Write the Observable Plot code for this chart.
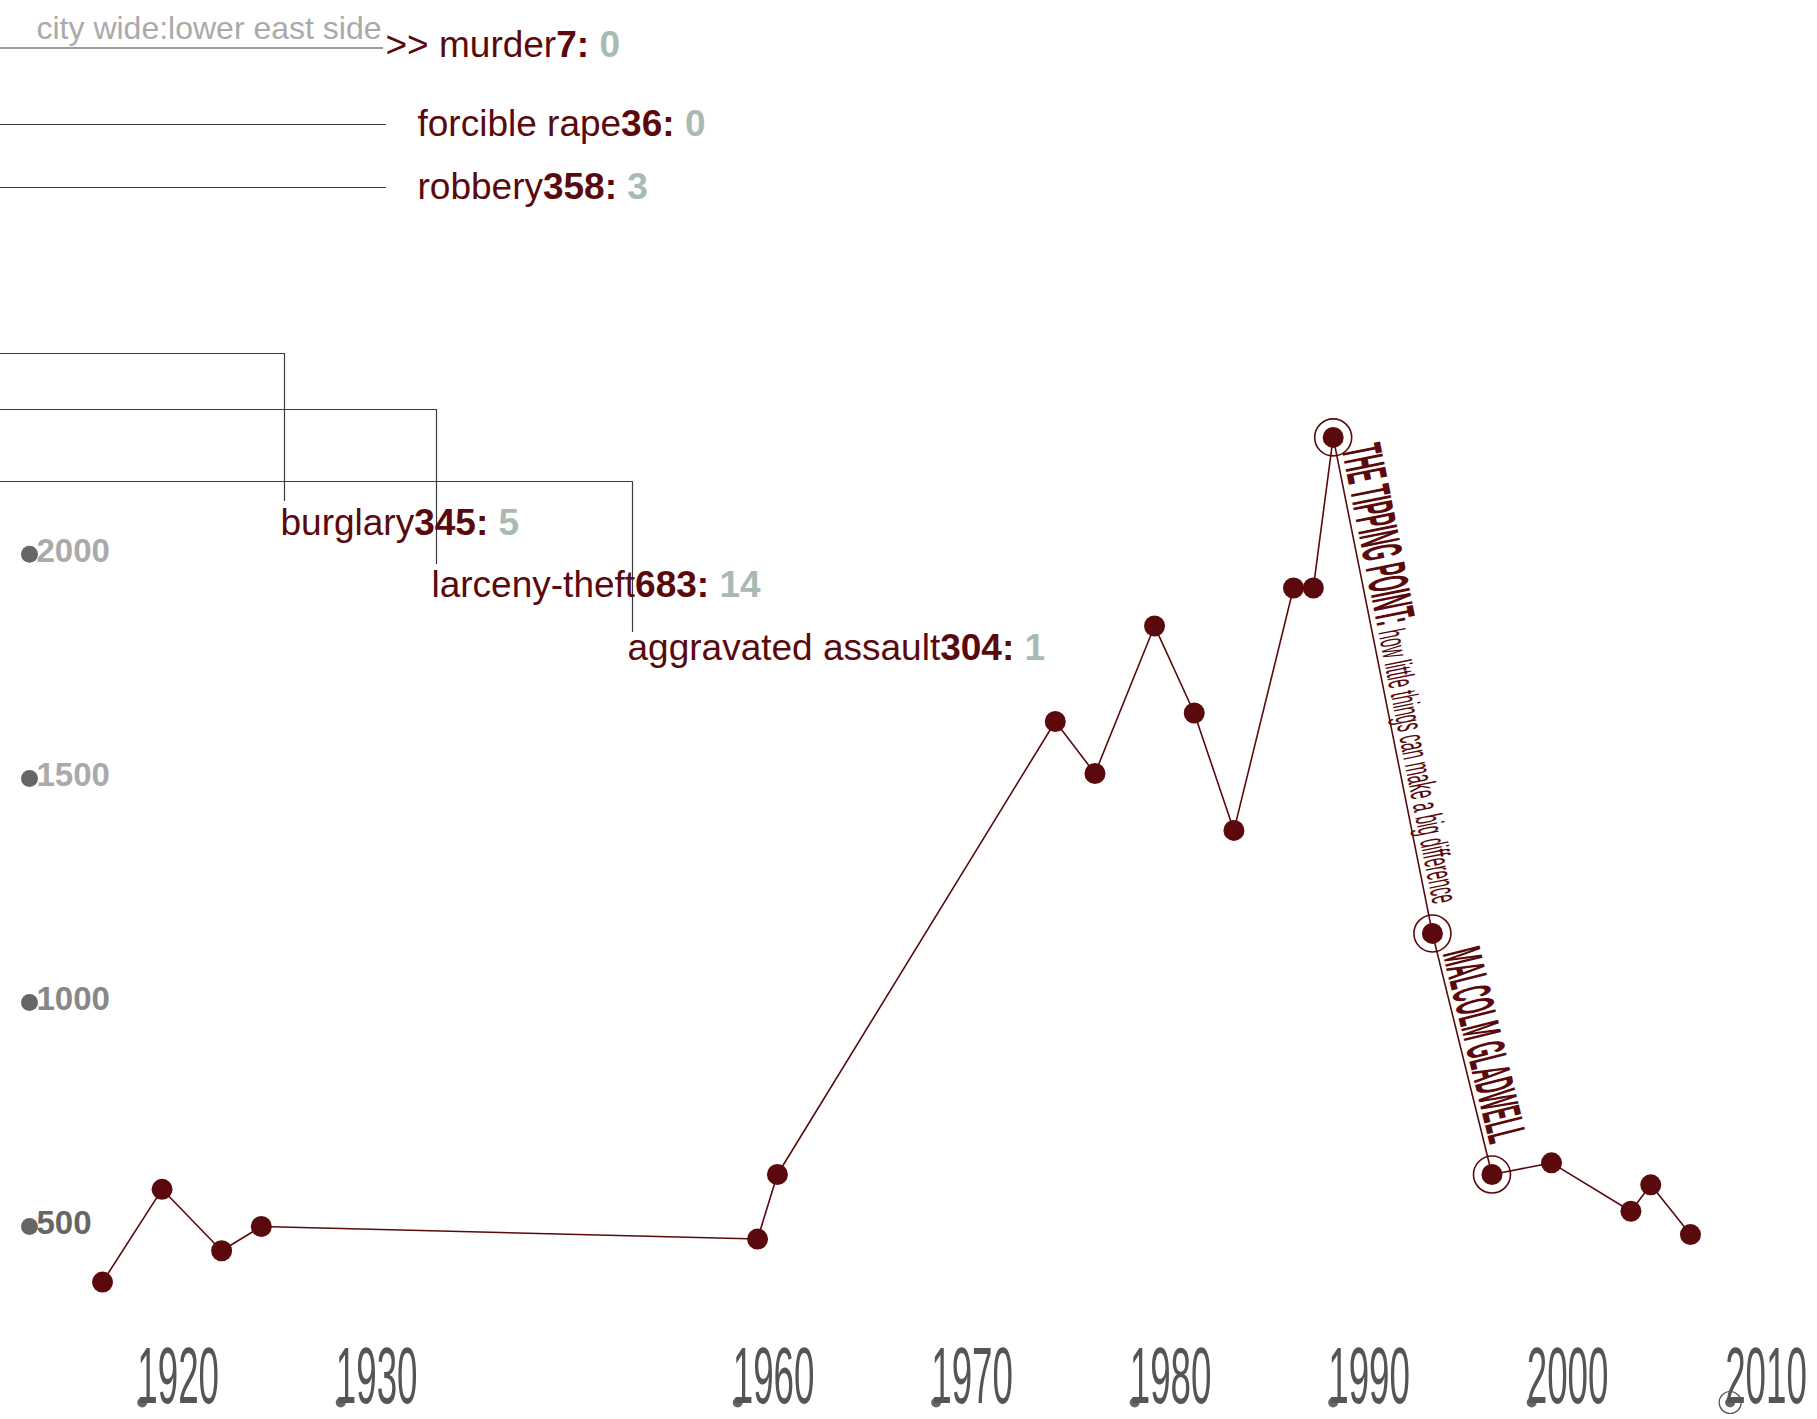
<!DOCTYPE html>
<html>
<head>
<meta charset="utf-8">
<script src="https://cdn.jsdelivr.net/npm/d3@7"></script>
<script src="https://cdn.jsdelivr.net/npm/@observablehq/plot@0.6"></script>
<style>
  html, body { margin: 0; padding: 0; background: #fff; }
  #chart svg { display: block; }
  #chart text { white-space: pre; }
</style>
</head>
<body>
<div id="chart"></div>
<script>
// ---------------- data ----------------
const years   = [1928, 1931, 1934, 1936, 1961, 1962, 1976, 1978, 1981, 1983, 1985, 1988, 1989, 1990, 1995, 1998, 2001, 2005, 2006, 2008];
const murders = [376, 583, 446, 500, 472, 616, 1627, 1511, 1840, 1646, 1384, 1925, 1925, 2261, 1154, 616, 642, 534, 593, 482];
const highlightYears = [1990, 1995, 1998];

const yTickValues = [500, 1000, 1500, 2000];
const xTickYears  = [1930, 1940, 1960, 1970, 1980, 1990, 2000, 2010];
const xTickLabels = ["1920", "1930", "1960", "1970", "1980", "1990", "2000", "2010"];
const markedTickYear = 2010;

const crimes        = ["murder", "forcible rape", "robbery", "burglary", "larceny-theft", "aggravated assault"];
const cityWide      = [7, 36, 358, 345, 683, 304];
const lowerEastSide = [0, 0, 3, 5, 14, 1];
const selectedCrime = "murder";

const headerText   = "city wide:lower east side";
const bookTitle    = "THE TIPPING POINT:";
const bookSubtitle = "how little things can make a big difference";
const bookAuthor   = "MALCOLM GLADWELL";

// ---------------- layout / style ----------------
const W = 1817, H = 1419;
const maroon = "#5a0a0c";
const valueGray = "#a8bab4";
const yTickColors = ["#666666", "#888888", "#aaaaaa", "#aaaaaa"];
const xDomain = [1922.86, 2014.40];
const yDomain = [69.3, 3236];
const xs = d3.scaleLinear(xDomain, [0, W]);
const ys = d3.scaleLinear(yDomain, [H, 0]);

// annotation layout in pixels (converted to data space through the scales)
const crimeLabelLayout = [
  {lineY: 47.5, cornerX: 382, endY: null, textX: 385, textY: 45},
  {lineY: 124,  cornerX: 385, endY: null, textX: 417, textY: 124},
  {lineY: 187,  cornerX: 385, endY: null, textX: 417, textY: 187},
  {lineY: 353,  cornerX: 284, endY: 500,  textX: 280, textY: 523},
  {lineY: 409,  cornerX: 436, endY: 563,  textX: 431, textY: 585},
  {lineY: 481,  cornerX: 632, endY: 631,  textX: 627, textY: 648}
];
const headerPos = {x: 36, y: 28};

// ---------------- derived tables ----------------
const series = years.map((year, i) => ({year, value: murders[i]}));
const highlighted = series.filter(d => highlightYears.includes(d.year));
const byYear = new Map(series.map(d => [d.year, d]));
const peak = byYear.get(highlightYears[0]);
const drop = byYear.get(highlightYears[1]);
const low  = byYear.get(highlightYears[2]);
const angleOf = (a, b) => Math.atan2(ys(b.value) - ys(a.value), xs(b.year) - xs(a.year)) * 180 / Math.PI;

const crimeRows = crimes.map((name, i) => ({
  name, city: cityWide[i], les: lowerEastSide[i],
  label: (name === selectedCrime ? ">> " : "") + name,
  x: xs.invert(crimeLabelLayout[i].textX),
  y: ys.invert(crimeLabelLayout[i].textY)
}));
const leaderPoints = crimeLabelLayout.flatMap((L, k) => {
  const pts = [[0, L.lineY], [L.cornerX, L.lineY]];
  if (L.endY != null) pts.push([L.cornerX, L.endY]);
  return pts.map(([px, py]) => ({k, x: xs.invert(px), y: ys.invert(py)}));
});

const font = "'Liberation Sans', Arial, Helvetica, sans-serif";

const plot = Plot.plot({
  width: W, height: H,
  marginTop: 0, marginRight: 0, marginBottom: 0, marginLeft: 0,
  x: {type: "linear", domain: xDomain, range: [0, W], axis: null},
  y: {type: "linear", domain: yDomain, range: [H, 0], axis: null},
  color: {type: "identity"},
  style: {fontFamily: font, background: "#fff", overflow: "visible"},
  marks: [
    // header
    Plot.text([headerText], {x: () => xs.invert(headerPos.x), y: () => ys.invert(headerPos.y), text: d => d,
      textAnchor: "start", lineAnchor: "middle", fontSize: 32, fill: "#aaaaaa"}),
    // leader lines
    Plot.line(leaderPoints, {x: "x", y: "y", z: "k", stroke: "#3a3a3a", strokeWidth: 1.2, strokeLinejoin: "miter"}),
    // crime labels
    Plot.text(crimeRows, {x: "x", y: "y", text: "label", textAnchor: "start", lineAnchor: "middle",
      fontSize: 37, fill: maroon, ariaDescription: "crime-labels"}),
    // y ticks
    Plot.dot(yTickValues, {y: d => d, frameAnchor: "left", dx: 29, r: 8.5, fill: "#666666"}),
    Plot.text(yTickValues, {y: d => d, text: d => String(d), frameAnchor: "left", dx: 36, dy: -3,
      textAnchor: "start", lineAnchor: "middle", fontSize: 33, fontWeight: "bold",
      fill: (d, i) => yTickColors[i]}),
    // x ticks
    Plot.dot(xTickYears, {x: d => d, frameAnchor: "bottom", dy: -17, r: 5, fill: "#666666"}),
    Plot.dot([markedTickYear], {x: d => d, frameAnchor: "bottom", dy: -17, r: 11, stroke: "#555555", strokeWidth: 1.2, fill: "none"}),
    Plot.text(xTickYears, {x: d => d, text: (d, i) => xTickLabels[i], frameAnchor: "bottom", dy: -17, dx: -5,
      textAnchor: "start", lineAnchor: "bottom", fontSize: 80, fill: "#555555", ariaDescription: "x-tick-labels"}),
    // series
    Plot.line(series, {x: "year", y: "value", stroke: maroon, strokeWidth: 1.6}),
    Plot.dot(series, {x: "year", y: "value", r: 10.5, fill: maroon}),
    Plot.dot(highlighted, {x: "year", y: "value", r: 18.5, stroke: maroon, strokeWidth: 1.6, fill: "none"}),
    // book annotation along the drop
    Plot.text([peak], {x: "year", y: "value", text: () => bookTitle, rotate: angleOf(peak, drop),
      textAnchor: "start", lineAnchor: "bottom", fontSize: 57, fontWeight: "bold", fill: maroon, ariaDescription: "book-title"}),
    Plot.text([peak], {x: "year", y: "value", text: () => bookSubtitle, rotate: angleOf(peak, drop),
      textAnchor: "start", lineAnchor: "bottom", fontSize: 38, fill: maroon, ariaDescription: "book-subtitle"}),
    Plot.text([drop], {x: "year", y: "value", text: () => bookAuthor, rotate: angleOf(drop, low),
      textAnchor: "start", lineAnchor: "bottom", fontSize: 55, fontWeight: "bold", fill: maroon, ariaDescription: "book-author"})
  ]
});

document.getElementById("chart").appendChild(plot);

// ---------------- post-processing: condensed type & mixed-style labels ----------------
const svg = d3.select(plot.tagName.toLowerCase() === "svg" ? plot : plot.querySelector("svg"));
function condense(desc, along, perp, sx) {
  svg.selectAll(`g[aria-description="${desc}"] text`).each(function () {
    const t = this.getAttribute("transform") || "";
    this.setAttribute("transform", `${t} translate(${along},${perp}) scale(${sx},1)`);
  });
}
condense("x-tick-labels", 0, 0, 0.46);
condense("book-title", 13, -6, 0.325);
condense("book-subtitle", 200, -6, 0.395);
condense("book-author", 22, -5, 0.325);

svg.selectAll(`g[aria-description="crime-labels"] text`).each(function (_, j) {
  const i = typeof this.__data__ === "number" ? this.__data__ : j;
  const row = crimeRows[i];
  const t = d3.select(this);
  t.append("tspan").attr("font-weight", "bold").text(`${row.city}: `);
  t.append("tspan").attr("font-weight", "bold").attr("fill", valueGray).text(`${row.les}`);
});
</script>
</body>
</html>
